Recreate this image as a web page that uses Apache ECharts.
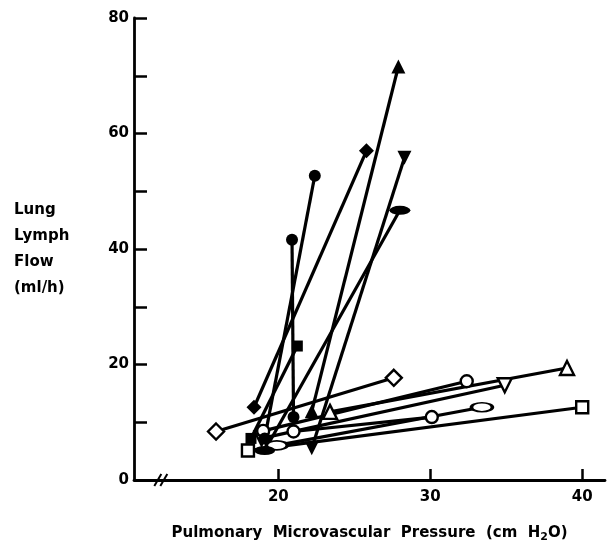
<!DOCTYPE html>
<html><head><meta charset="utf-8">
<script src="https://cdn.jsdelivr.net/npm/echarts@6/dist/echarts.min.js"></script>
<style>html,body{margin:0;padding:0;background:#fff}#c{width:607px;height:548px}</style>
</head><body><div id="c"></div>
<script>
// Axis ticks / labels
const xTickValues = [20, 30, 40];
const yTickValues = [10, 20, 30, 40, 50, 60, 70, 80];
const yLabelValues = [0, 20, 40, 60, 80];

// Each animal: [pressure (cm H2O), lymph flow (ml/h)] at baseline and elevated pressure
const filledTriangle   = [[22.2, 11.9], [27.9, 71.6]];
const filledDiamond    = [[18.4, 12.6], [25.8, 57.0]];
const filledInvTri     = [[22.2, 5.5],  [28.3, 55.8]];
const filledCircleB    = [[19.1, 7.2],  [22.4, 52.7]];
const filledEllipse    = [[19.1, 5.1],  [28.0, 46.7]];
const filledCircleA    = [[21.0, 10.9], [20.9, 41.6]];
const filledSquare     = [[18.2, 7.2],  [21.25, 23.2]];
const openDiamond      = [[15.9, 8.4],  [27.6, 17.7]];
const openTriangle     = [[23.4, 11.8], [39.0, 19.4]];
const openCircleA      = [[19.0, 8.5],  [32.4, 17.1]];
const openInvTri       = [[18.9, 7.2],  [34.9, 16.4]];
const openEllipse      = [[19.9, 6.0],  [33.4, 12.6]];
const openCircleB      = [[21.0, 8.4],  [30.1, 10.9]];
const openSquare       = [[18.0, 5.1],  [40.0, 12.6]];

const styles = [
  {data: openSquare,     symbol: 'rect',     size: 12, filled: false},
  {data: openEllipse,    symbol: 'circle',   size: [21, 9], filled: false},
  {data: openCircleB,    symbol: 'circle',   size: 12, filled: false},
  {data: openInvTri,     symbol: 'triangle', size: 14, rotate: 180, filled: false},
  {data: openCircleA,    symbol: 'circle',   size: 12, filled: false},
  {data: openTriangle,   symbol: 'triangle', size: 14, filled: false},
  {data: openDiamond,    symbol: 'diamond',  size: 16, filled: false},
  {data: filledSquare,   symbol: 'rect',     size: 11, filled: true},
  {data: filledCircleA,  symbol: 'circle',   size: 12, filled: true},
  {data: filledEllipse,  symbol: 'circle',   size: [21, 9], filled: true},
  {data: filledCircleB,  symbol: 'circle',   size: 12, filled: true},
  {data: filledInvTri,   symbol: 'triangle', size: 14, rotate: 180, filled: true},
  {data: filledDiamond,  symbol: 'diamond',  size: 15, filled: true},
  {data: filledTriangle, symbol: 'triangle', size: 14, filled: true}
];

const chart = echarts.init(document.getElementById('c'), null, {renderer: 'canvas'});
const font = 'DejaVu Sans';
const option = {
  animation: false,
  backgroundColor: '#fff',
  grid: {left: 134, top: 18, width: 471, height: 469, containLabel: false},
  xAxis: {
    type: 'value', min: 10.5, max: 41.5,
    name: 'Pulmonary  Microvascular  Pressure  (cm  H{sub|2}O)',
    nameLocation: 'middle', nameGap: 44,
    nameTextStyle: {color: '#000', fontFamily: font, fontWeight: 'bold', fontSize: 15,
      rich: {sub: {fontFamily: font, fontWeight: 'bold', fontSize: 11, padding: [8, 0, 0, 0]}}},
    axisLine: {lineStyle: {color: '#000', width: 2.8}},
    axisTick: {show: true, inside: true, length: 11, customValues: xTickValues, lineStyle: {color: '#000', width: 2.5}},
    axisLabel: {customValues: xTickValues, color: '#000', fontFamily: font, fontWeight: 'bold', fontSize: 15, margin: 10},
    splitLine: {show: false}
  },
  yAxis: {
    type: 'value', min: 0, max: 80,
    name: 'Lung\nLymph\nFlow\n(ml/h)',
    nameLocation: 'middle', nameRotate: 0, nameGap: 120,
    nameTextStyle: {color: '#000', fontFamily: font, fontWeight: 'bold', fontSize: 15, align: 'left', lineHeight: 26},
    axisLine: {lineStyle: {color: '#000', width: 2.8}},
    axisTick: {show: true, inside: true, length: 13, customValues: yTickValues, lineStyle: {color: '#000', width: 2.5}},
    axisLabel: {customValues: yLabelValues, color: '#000', fontFamily: font, fontWeight: 'bold', fontSize: 15, margin: 5},
    splitLine: {show: false}
  },
  series: styles.map(s => ({
    type: 'line',
    data: s.data,
    symbol: s.symbol,
    symbolSize: s.size,
    symbolRotate: s.rotate || 0,
    showSymbol: true,
    lineStyle: {color: '#000', width: 3.2},
    itemStyle: {color: s.filled ? '#000' : '#fff', borderColor: '#000', borderWidth: s.filled ? 0 : 2.4},
    emphasis: {disabled: true},
    silent: true
  }))
};
chart.setOption(option);

// axis break marks "//" on the x axis
const p = chart.convertToPixel({xAxisIndex: 0, yAxisIndex: 0}, [12.1, 0]);
chart.setOption({
  graphic: [0, 6].map(dx => ({
    type: 'line', z: 100,
    shape: {x1: p[0] + dx - 4, y1: p[1] + 6, x2: p[0] + dx + 3, y2: p[1] - 6},
    style: {stroke: '#000', lineWidth: 2}
  }))
});
</script></body></html>
